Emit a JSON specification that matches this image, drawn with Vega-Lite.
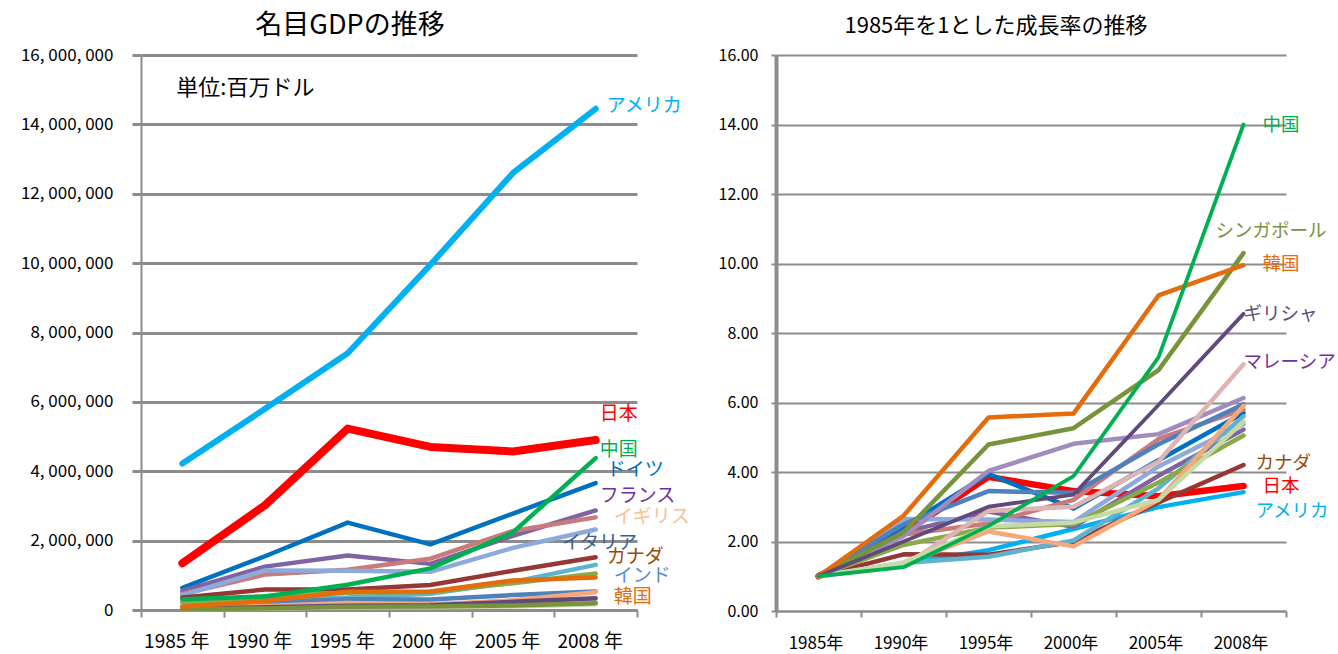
{
  "$schema": "https://vega.github.io/schema/vega-lite/v6.json",
  "background": "white",
  "padding": {"left": 20, "top": 12, "right": 5, "bottom": 5},
  "spacing": 28,
  "config": {
    "view": {"stroke": null},
    "font": "Noto Sans CJK JP",
    "title": {"font": "Noto Sans CJK JP", "fontWeight": "normal", "color": "#000000"},
    "axis": {"labelFont": "Noto Sans CJK JP", "labelColor": "#000000"}
  },
  "datasets": {
    "gdp": [
      {"country": "アメリカ", "year": "1985年", "gdp": 4220000, "ratio": 1},
      {"country": "アメリカ", "year": "1990年", "gdp": 5800000, "ratio": 1.37},
      {"country": "アメリカ", "year": "1995年", "gdp": 7400000, "ratio": 1.75},
      {"country": "アメリカ", "year": "2000年", "gdp": 9950000, "ratio": 2.36},
      {"country": "アメリカ", "year": "2005年", "gdp": 12600000, "ratio": 2.99},
      {"country": "アメリカ", "year": "2008年", "gdp": 14450000, "ratio": 3.42},
      {"country": "日本", "year": "1985年", "gdp": 1350000, "ratio": 1},
      {"country": "日本", "year": "1990年", "gdp": 3020000, "ratio": 2.24},
      {"country": "日本", "year": "1995年", "gdp": 5230000, "ratio": 3.86},
      {"country": "日本", "year": "2000年", "gdp": 4700000, "ratio": 3.45},
      {"country": "日本", "year": "2005年", "gdp": 4570000, "ratio": 3.3},
      {"country": "日本", "year": "2008年", "gdp": 4900000, "ratio": 3.6},
      {"country": "ドイツ", "year": "1985年", "gdp": 640000, "ratio": 1},
      {"country": "ドイツ", "year": "1990年", "gdp": 1550000, "ratio": 2.42},
      {"country": "ドイツ", "year": "1995年", "gdp": 2520000, "ratio": 3.94},
      {"country": "ドイツ", "year": "2000年", "gdp": 1890000, "ratio": 2.95},
      {"country": "ドイツ", "year": "2005年", "gdp": 2780000, "ratio": 4.34},
      {"country": "ドイツ", "year": "2008年", "gdp": 3660000, "ratio": 5.7},
      {"country": "フランス", "year": "1985年", "gdp": 550000, "ratio": 1},
      {"country": "フランス", "year": "1990年", "gdp": 1250000, "ratio": 2.27},
      {"country": "フランス", "year": "1995年", "gdp": 1570000, "ratio": 2.86},
      {"country": "フランス", "year": "2000年", "gdp": 1330000, "ratio": 2.42},
      {"country": "フランス", "year": "2005年", "gdp": 2140000, "ratio": 3.89},
      {"country": "フランス", "year": "2008年", "gdp": 2870000, "ratio": 5.22},
      {"country": "イギリス", "year": "1985年", "gdp": 460000, "ratio": 1},
      {"country": "イギリス", "year": "1990年", "gdp": 1020000, "ratio": 2.2},
      {"country": "イギリス", "year": "1995年", "gdp": 1160000, "ratio": 2.52},
      {"country": "イギリス", "year": "2000年", "gdp": 1480000, "ratio": 3.2},
      {"country": "イギリス", "year": "2005年", "gdp": 2280000, "ratio": 4.95},
      {"country": "イギリス", "year": "2008年", "gdp": 2670000, "ratio": 5.8},
      {"country": "イタリア", "year": "1985年", "gdp": 430000, "ratio": 1},
      {"country": "イタリア", "year": "1990年", "gdp": 1140000, "ratio": 2.65},
      {"country": "イタリア", "year": "1995年", "gdp": 1130000, "ratio": 2.63},
      {"country": "イタリア", "year": "2000年", "gdp": 1100000, "ratio": 2.56},
      {"country": "イタリア", "year": "2005年", "gdp": 1790000, "ratio": 4.16},
      {"country": "イタリア", "year": "2008年", "gdp": 2320000, "ratio": 5.38},
      {"country": "カナダ", "year": "1985年", "gdp": 360000, "ratio": 1},
      {"country": "カナダ", "year": "1990年", "gdp": 590000, "ratio": 1.63},
      {"country": "カナダ", "year": "1995年", "gdp": 590000, "ratio": 1.62},
      {"country": "カナダ", "year": "2000年", "gdp": 720000, "ratio": 1.99},
      {"country": "カナダ", "year": "2005年", "gdp": 1130000, "ratio": 3.12},
      {"country": "カナダ", "year": "2008年", "gdp": 1520000, "ratio": 4.2},
      {"country": "インド", "year": "1985年", "gdp": 230000, "ratio": 1},
      {"country": "インド", "year": "1990年", "gdp": 320000, "ratio": 1.38},
      {"country": "インド", "year": "1995年", "gdp": 360000, "ratio": 1.56},
      {"country": "インド", "year": "2000年", "gdp": 470000, "ratio": 2.03},
      {"country": "インド", "year": "2005年", "gdp": 810000, "ratio": 3.53},
      {"country": "インド", "year": "2008年", "gdp": 1300000, "ratio": 5.6},
      {"country": "オーストラリア", "year": "1985年", "gdp": 208000, "ratio": 1},
      {"country": "オーストラリア", "year": "1990年", "gdp": 395000, "ratio": 1.9},
      {"country": "オーストラリア", "year": "1995年", "gdp": 500000, "ratio": 2.4},
      {"country": "オーストラリア", "year": "2000年", "gdp": 520000, "ratio": 2.5},
      {"country": "オーストラリア", "year": "2005年", "gdp": 770000, "ratio": 3.7},
      {"country": "オーストラリア", "year": "2008年", "gdp": 1050000, "ratio": 5.05},
      {"country": "台湾", "year": "1985年", "gdp": 90000, "ratio": 1},
      {"country": "台湾", "year": "1990年", "gdp": 225000, "ratio": 2.5},
      {"country": "台湾", "year": "1995年", "gdp": 310000, "ratio": 3.45},
      {"country": "台湾", "year": "2000年", "gdp": 306000, "ratio": 3.4},
      {"country": "台湾", "year": "2005年", "gdp": 432000, "ratio": 4.8},
      {"country": "台湾", "year": "2008年", "gdp": 535000, "ratio": 5.95},
      {"country": "香港", "year": "1985年", "gdp": 36000, "ratio": 1},
      {"country": "香港", "year": "1990年", "gdp": 77000, "ratio": 2.15},
      {"country": "香港", "year": "1995年", "gdp": 144000, "ratio": 4.03},
      {"country": "香港", "year": "2000年", "gdp": 172000, "ratio": 4.81},
      {"country": "香港", "year": "2005年", "gdp": 182000, "ratio": 5.09},
      {"country": "香港", "year": "2008年", "gdp": 219000, "ratio": 6.13},
      {"country": "インドネシア", "year": "1985年", "gdp": 87000, "ratio": 1},
      {"country": "インドネシア", "year": "1990年", "gdp": 117000, "ratio": 1.35},
      {"country": "インドネシア", "year": "1995年", "gdp": 200000, "ratio": 2.29},
      {"country": "インドネシア", "year": "2000年", "gdp": 162000, "ratio": 1.86},
      {"country": "インドネシア", "year": "2005年", "gdp": 278000, "ratio": 3.2},
      {"country": "インドネシア", "year": "2008年", "gdp": 513000, "ratio": 5.9},
      {"country": "マレーシア", "year": "1985年", "gdp": 31000, "ratio": 1},
      {"country": "マレーシア", "year": "1990年", "gdp": 40000, "ratio": 1.3},
      {"country": "マレーシア", "year": "1995年", "gdp": 89000, "ratio": 2.88},
      {"country": "マレーシア", "year": "2000年", "gdp": 93000, "ratio": 3.0},
      {"country": "マレーシア", "year": "2005年", "gdp": 133000, "ratio": 4.3},
      {"country": "マレーシア", "year": "2008年", "gdp": 220000, "ratio": 7.1},
      {"country": "フィリピン", "year": "1985年", "gdp": 31000, "ratio": 1},
      {"country": "フィリピン", "year": "1990年", "gdp": 43000, "ratio": 1.4},
      {"country": "フィリピン", "year": "1995年", "gdp": 76000, "ratio": 2.43},
      {"country": "フィリピン", "year": "2000年", "gdp": 79000, "ratio": 2.55},
      {"country": "フィリピン", "year": "2005年", "gdp": 99000, "ratio": 3.2},
      {"country": "フィリピン", "year": "2008年", "gdp": 169000, "ratio": 5.45},
      {"country": "ギリシャ", "year": "1985年", "gdp": 40000, "ratio": 1},
      {"country": "ギリシャ", "year": "1990年", "gdp": 80000, "ratio": 2.0},
      {"country": "ギリシャ", "year": "1995年", "gdp": 120000, "ratio": 3.0},
      {"country": "ギリシャ", "year": "2000年", "gdp": 134000, "ratio": 3.35},
      {"country": "ギリシャ", "year": "2005年", "gdp": 237000, "ratio": 5.93},
      {"country": "ギリシャ", "year": "2008年", "gdp": 342000, "ratio": 8.55},
      {"country": "シンガポール", "year": "1985年", "gdp": 19000, "ratio": 1},
      {"country": "シンガポール", "year": "1990年", "gdp": 43000, "ratio": 2.26},
      {"country": "シンガポール", "year": "1995年", "gdp": 91000, "ratio": 4.79},
      {"country": "シンガポール", "year": "2000年", "gdp": 100000, "ratio": 5.26},
      {"country": "シンガポール", "year": "2005年", "gdp": 131000, "ratio": 6.93},
      {"country": "シンガポール", "year": "2008年", "gdp": 195000, "ratio": 10.3},
      {"country": "韓国", "year": "1985年", "gdp": 94000, "ratio": 1},
      {"country": "韓国", "year": "1990年", "gdp": 258000, "ratio": 2.74},
      {"country": "韓国", "year": "1995年", "gdp": 523000, "ratio": 5.57},
      {"country": "韓国", "year": "2000年", "gdp": 534000, "ratio": 5.68},
      {"country": "韓国", "year": "2005年", "gdp": 853000, "ratio": 9.08},
      {"country": "韓国", "year": "2008年", "gdp": 940000, "ratio": 9.95},
      {"country": "中国", "year": "1985年", "gdp": 310000, "ratio": 1},
      {"country": "中国", "year": "1990年", "gdp": 390000, "ratio": 1.26},
      {"country": "中国", "year": "1995年", "gdp": 730000, "ratio": 2.45},
      {"country": "中国", "year": "2000年", "gdp": 1200000, "ratio": 3.88},
      {"country": "中国", "year": "2005年", "gdp": 2240000, "ratio": 7.3},
      {"country": "中国", "year": "2008年", "gdp": 4380000, "ratio": 14.0}
    ],
    "labelsL": [
      {"label": "アメリカ", "year": "2008年", "gdp": 14520000},
      {"label": "日本", "year": "2008年", "gdp": 5660000},
      {"label": "中国", "year": "2008年", "gdp": 4610000},
      {"label": "ドイツ", "year": "2008年", "gdp": 4030000},
      {"label": "フランス", "year": "2008年", "gdp": 3280000},
      {"label": "イギリス", "year": "2008年", "gdp": 2670000},
      {"label": "イタリア", "year": "2008年", "gdp": 1920000},
      {"label": "カナダ", "year": "2008年", "gdp": 1520000},
      {"label": "インド", "year": "2008年", "gdp": 990000},
      {"label": "韓国", "year": "2008年", "gdp": 380000}
    ],
    "unitL": [
      {"label": "単位:百万ドル", "year": "1985年", "gdp": 15040000}
    ],
    "labelsR": [
      {"label": "中国", "year": "2008年", "ratio": 14.0},
      {"label": "シンガポール", "year": "2008年", "ratio": 10.94},
      {"label": "韓国", "year": "2008年", "ratio": 10.0},
      {"label": "ギリシャ", "year": "2008年", "ratio": 8.54},
      {"label": "マレーシア", "year": "2008年", "ratio": 7.16},
      {"label": "カナダ", "year": "2008年", "ratio": 4.26},
      {"label": "日本", "year": "2008年", "ratio": 3.59},
      {"label": "アメリカ", "year": "2008年", "ratio": 2.88}
    ]
  },
  "hconcat": [
    {
      "width": 496,
      "height": 555,
      "title": {"text": "名目GDPの推移", "fontSize": 27, "dx": -39, "offset": 6},
      "encoding": {
        "x": {
          "field": "year", "type": "ordinal", "bandPosition": 0.5,
          "scale": {"type": "band", "paddingInner": 0, "paddingOuter": 0, "domain": ["1985年", "1990年", "1995年", "2000年", "2005年", "2008年"]},
          "axis": {"title": null, "labelAngle": 0, "tickBand": "extent", "domainColor": "#8c8c8c", "domainWidth": 2, "tickColor": "#8c8c8c", "tickWidth": 2, "tickSize": 7, "labelFontSize": 19, "labelPadding": 15, "labelOffset": -6, "labelExpr": "replace(datum.label, '年', ' 年')", "grid": false}
        },
        "y": {
          "field": "gdp", "type": "quantitative",
          "scale": {"domain": [0, 16000000], "nice": false, "zero": true},
          "axis": {"title": null, "values": [0, 2000000, 4000000, 6000000, 8000000, 10000000, 12000000, 14000000, 16000000], "labelExpr": "replace(format(datum.value, ','), regexp(',', 'g'), ', ')", "labelFontSize": 17, "labelPadding": 19, "tickSize": 9, "tickColor": "#8c8c8c", "tickWidth": 3, "gridColor": "#8c8c8c", "gridWidth": 3, "domainColor": "#8c8c8c", "domainWidth": 2}
        }
      },
      "layer": [
        {
          "data": {"name": "gdp"},
          "encoding": {
            "color": {
              "field": "country", "type": "nominal", "legend": null,
              "scale": {
                "domain": ["アメリカ", "日本", "中国", "ドイツ", "フランス", "イギリス", "イタリア", "カナダ", "インド", "韓国", "オーストラリア", "台湾", "香港", "シンガポール", "ギリシャ", "インドネシア", "マレーシア", "フィリピン"],
                "range": ["#00B0F0", "#FF0000", "#00B050", "#0070C0", "#8064A2", "#C87B7A", "#8EA9DB", "#953735", "#5FB3CF", "#E46C0A", "#8AAA4A", "#4F81BD", "#A08CBE", "#77933C", "#604A7B", "#F6A87A", "#E0B4B3", "#C7D9A6"]
              }
            }
          },
          "layer": [
            {"transform": [{"filter": {"not": {"field": "country", "oneOf": ["アメリカ", "日本"]}}}], "mark": {"type": "line", "strokeWidth": 4.5, "strokeJoin": "round", "strokeCap": "round"}},
            {"transform": [{"filter": {"field": "country", "equal": "アメリカ"}}], "mark": {"type": "line", "strokeWidth": 6, "strokeJoin": "round", "strokeCap": "round"}},
            {"transform": [{"filter": {"field": "country", "equal": "日本"}}], "mark": {"type": "line", "strokeWidth": 8, "strokeJoin": "round", "strokeCap": "round"}}
          ]
        },
        {
          "layer": [
            {"data": {"name": "unitL"}, "mark": {"type": "text", "align": "left", "baseline": "middle", "fontSize": 22, "dx": -6, "color": "#000000"}, "encoding": {"text": {"field": "label"}}},
            {
              "data": {"name": "labelsL"},
              "encoding": {
                "text": {"field": "label"},
                "color": {"field": "label", "type": "nominal", "legend": null, "scale": {"domain": ["アメリカ", "日本", "中国", "ドイツ", "フランス", "イギリス", "イタリア", "カナダ", "インド", "韓国", "シンガポール", "ギリシャ", "マレーシア"], "range": ["#00B0F0", "#FF0000", "#00B050", "#0070C0", "#7030A0", "#FAC090", "#366092", "#984807", "#558ED5", "#E46C0A", "#77933C", "#604A7B", "#7030A0"]}}
              },
              "layer": [
                {"transform": [{"filter": {"field": "label", "oneOf": ["日本", "中国", "フランス"]}}], "mark": {"type": "text", "align": "left", "baseline": "middle", "fontSize": 19, "dx": 4}},
                {"transform": [{"filter": {"field": "label", "oneOf": ["アメリカ", "ドイツ", "カナダ"]}}], "mark": {"type": "text", "align": "left", "baseline": "middle", "fontSize": 19, "dx": 11}},
                {"transform": [{"filter": {"field": "label", "oneOf": ["イギリス", "インド", "韓国"]}}], "mark": {"type": "text", "align": "left", "baseline": "middle", "fontSize": 19, "dx": 18}},
                {"transform": [{"filter": {"field": "label", "oneOf": ["イタリア"]}}], "mark": {"type": "text", "align": "left", "baseline": "middle", "fontSize": 19, "dx": -34}}
              ]
            }
          ]
        }
      ],
      "resolve": {"scale": {"color": "independent"}}
    },
    {
      "width": 510,
      "height": 556,
      "title": {"text": "1985年を1とした成長率の推移", "fontSize": 22, "dx": -35, "offset": 9},
      "encoding": {
        "x": {
          "field": "year", "type": "ordinal", "bandPosition": 0.5,
          "scale": {"type": "band", "paddingInner": 0, "paddingOuter": 0, "domain": ["1985年", "1990年", "1995年", "2000年", "2005年", "2008年"]},
          "axis": {"title": null, "labelAngle": 0, "tickBand": "extent", "domainColor": "#8c8c8c", "domainWidth": 2, "tickColor": "#8c8c8c", "tickWidth": 2, "tickSize": 6, "labelFontSize": 17, "labelPadding": 18, "labelOffset": -3, "grid": false}
        },
        "y": {
          "field": "ratio", "type": "quantitative",
          "scale": {"domain": [0, 16], "nice": false, "zero": true},
          "axis": {"title": null, "values": [0, 2, 4, 6, 8, 10, 12, 14, 16], "format": ".2f", "labelFontSize": 16, "labelPadding": 13, "tickSize": 5, "tickColor": "#8c8c8c", "tickWidth": 2, "gridColor": "#8c8c8c", "gridWidth": 2, "domainColor": "#8c8c8c", "domainWidth": 4}
        }
      },
      "layer": [
        {
          "data": {"name": "gdp"},
          "encoding": {
            "color": {
              "field": "country", "type": "nominal", "legend": null,
              "scale": {
                "domain": ["アメリカ", "日本", "中国", "ドイツ", "フランス", "イギリス", "イタリア", "カナダ", "インド", "韓国", "オーストラリア", "台湾", "香港", "シンガポール", "ギリシャ", "インドネシア", "マレーシア", "フィリピン"],
                "range": ["#00B0F0", "#FF0000", "#00B050", "#0070C0", "#8064A2", "#C87B7A", "#8EA9DB", "#953735", "#5FB3CF", "#E46C0A", "#8AAA4A", "#4F81BD", "#A08CBE", "#77933C", "#604A7B", "#F6A87A", "#E0B4B3", "#C7D9A6"]
              }
            }
          },
          "layer": [
            {"transform": [{"filter": {"field": "country", "equal": "日本"}}], "mark": {"type": "line", "strokeWidth": 6.5, "strokeJoin": "round", "strokeCap": "round"}},
            {"transform": [{"filter": {"not": {"field": "country", "oneOf": ["日本", "中国", "ギリシャ"]}}}], "mark": {"type": "line", "strokeWidth": 4.5, "strokeJoin": "round", "strokeCap": "round"}},
            {"transform": [{"filter": {"field": "country", "oneOf": ["中国", "ギリシャ"]}}], "mark": {"type": "line", "strokeWidth": 3.8, "strokeJoin": "round", "strokeCap": "round"}}
          ]
        },
        {
          "data": {"name": "labelsR"},
          "encoding": {
            "text": {"field": "label"},
            "color": {"field": "label", "type": "nominal", "legend": null, "scale": {"domain": ["アメリカ", "日本", "中国", "ドイツ", "フランス", "イギリス", "イタリア", "カナダ", "インド", "韓国", "シンガポール", "ギリシャ", "マレーシア"], "range": ["#00B0F0", "#FF0000", "#00B050", "#0070C0", "#7030A0", "#FAC090", "#366092", "#984807", "#558ED5", "#E46C0A", "#77933C", "#604A7B", "#7030A0"]}}
          },
          "layer": [
            {"transform": [{"filter": {"field": "label", "oneOf": ["中国", "韓国", "日本"]}}], "mark": {"type": "text", "align": "left", "baseline": "middle", "fontSize": 18.5, "dx": 19}},
            {"transform": [{"filter": {"field": "label", "oneOf": ["カナダ", "アメリカ"]}}], "mark": {"type": "text", "align": "left", "baseline": "middle", "fontSize": 18.5, "dx": 12}},
            {"transform": [{"filter": {"field": "label", "oneOf": ["ギリシャ", "マレーシア"]}}], "mark": {"type": "text", "align": "left", "baseline": "middle", "fontSize": 18.5, "dx": 0}},
            {"transform": [{"filter": {"field": "label", "oneOf": ["シンガポール"]}}], "mark": {"type": "text", "align": "left", "baseline": "middle", "fontSize": 18.5, "dx": -28}}
          ]
        }
      ],
      "resolve": {"scale": {"color": "independent"}}
    }
  ]
}
